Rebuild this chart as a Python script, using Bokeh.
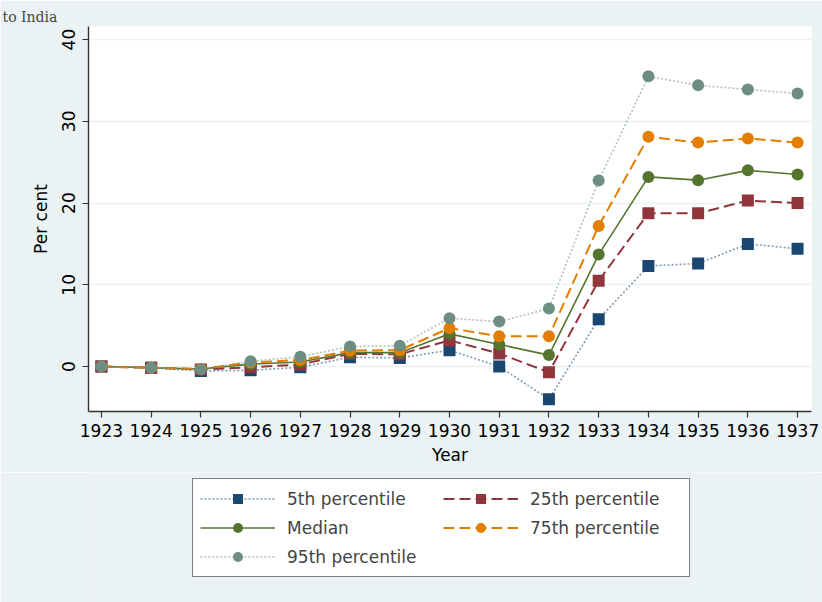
from bokeh.plotting import figure
from bokeh.models import Range1d, FixedTicker, Legend, LegendItem
from bokeh.layouts import column
from bokeh.embed import file_html
from bokeh.resources import INLINE

years = list(range(1923, 1938))
p5 = [0, -0.15, -0.55, -0.45, -0.1, 1.15, 1.05, 2.0, 0.0, -4.0, 5.8, 12.3, 12.6, 15.0, 14.4]
p25 = [0, -0.15, -0.35, -0.1, 0.25, 1.55, 1.5, 3.2, 1.6, -0.7, 10.5, 18.75, 18.75, 20.3, 20.0]
med = [0, -0.15, -0.3, 0.3, 0.55, 1.7, 1.7, 4.0, 2.7, 1.4, 13.7, 23.2, 22.8, 24.0, 23.5]
p75 = [0, -0.15, -0.3, 0.5, 0.8, 1.95, 2.0, 4.7, 3.7, 3.7, 17.2, 28.1, 27.4, 27.9, 27.4]
p95 = [0, -0.15, -0.35, 0.65, 1.2, 2.45, 2.55, 5.9, 5.5, 7.1, 22.75, 35.5, 34.4, 33.9, 33.4]
y_ticks = [0, 10, 20, 30, 40]

series = [
    ("5th percentile", p5, "#1A476F", "square", "dotted"),
    ("25th percentile", p25, "#90353B", "square", "dashed"),
    ("Median", med, "#55752F", "circle", "solid"),
    ("75th percentile", p75, "#E37E00", "circle", "dashed"),
    ("95th percentile", p95, "#6E8E84", "circle", "dotted"),
]

BG = "#EAF2F3"
FONT = "DejaVu Sans"


def line_style(style, col):
    if style == "dotted":
        return dict(line_color=col, line_width=1.6, line_dash="2 2", line_alpha=0.55)
    if style == "dashed":
        return dict(line_color=col, line_width=2, line_dash="11 5")
    return dict(line_color=col, line_width=1.6)


p = figure(width=822, height=472,
           x_range=Range1d(1922.74, 1937.28), y_range=Range1d(-5.5, 41.6),
           output_backend="svg", toolbar_location=None,
           min_border_left=88, min_border_right=11, min_border_top=26, min_border_bottom=61,
           background_fill_color="white", border_fill_color=BG, outline_line_color=None)

p.title.text = "to India"
p.title.text_font = "DejaVu Serif"
p.title.text_font_size = "14px"
p.title.text_font_style = "normal"
p.title.align = "left"
p.title.offset = -86
p.title.standoff = 4

for name, vals, col, mk, style in series:
    p.line(years, vals, **line_style(style, col))
    p.scatter(years, vals, marker=mk, size=12, fill_color=col, line_color=None)

# axes
p.xaxis.ticker = FixedTicker(ticks=years)
p.yaxis.ticker = FixedTicker(ticks=y_ticks)
for ax in (p.xaxis[0], p.yaxis[0]):
    ax.major_tick_in = 0
    ax.major_tick_out = 6
    ax.minor_tick_line_color = None
    ax.axis_line_color = "#333333"
    ax.axis_line_width = 1.4
    ax.major_tick_line_color = "#333333"
    ax.major_tick_line_width = 1.2
    ax.major_label_text_font = FONT
    ax.major_label_text_font_size = "17px"
    ax.major_label_text_color = "black"
    ax.axis_label_text_font = FONT
    ax.axis_label_text_font_size = "17px"
    ax.axis_label_text_font_style = "normal"
    ax.axis_label_text_color = "black"
p.xaxis.axis_label = "Year"
p.yaxis.axis_label = "Per cent"
p.yaxis.major_label_orientation = "vertical"
p.xaxis.major_label_standoff = 6
p.yaxis.major_label_standoff = 7
p.xaxis.axis_label_standoff = 5
p.yaxis.axis_label_standoff = 9

p.xgrid.grid_line_color = None
p.ygrid.grid_line_color = BG
p.ygrid.grid_line_width = 1.5

# legend strip: second figure; its renderers reuse the series but fall outside its ranges
q = figure(width=822, height=130, x_range=Range1d(0, 1), y_range=Range1d(0, 1),
           output_backend="svg", toolbar_location=None,
           min_border_left=0, min_border_right=0, min_border_top=0, min_border_bottom=0,
           background_fill_color=BG, border_fill_color=BG, outline_line_color=None)
q.axis.visible = False
q.grid.visible = False
items = []
for name, vals, col, mk, style in series:
    lr = q.line(years, vals, **line_style(style, col))
    sr = q.scatter(years, vals, marker=mk, size=12, fill_color=col, line_color=None)
    items.append(LegendItem(label=name, renderers=[lr, sr]))

lg = Legend(items=items, location=(104, 25), orientation="horizontal", ncols=2,
            border_line_color="black", border_line_width=1,
            background_fill_color="white", background_fill_alpha=1,
            label_text_font=FONT, label_text_font_size="17px",
            glyph_width=75, glyph_height=25, label_standoff=12, label_width=152,
            spacing=4, padding=7, margin=0)
q.add_layout(lg)

layout = column(p, q, spacing=0)
open("out.html", "w").write(file_html(layout, INLINE))
